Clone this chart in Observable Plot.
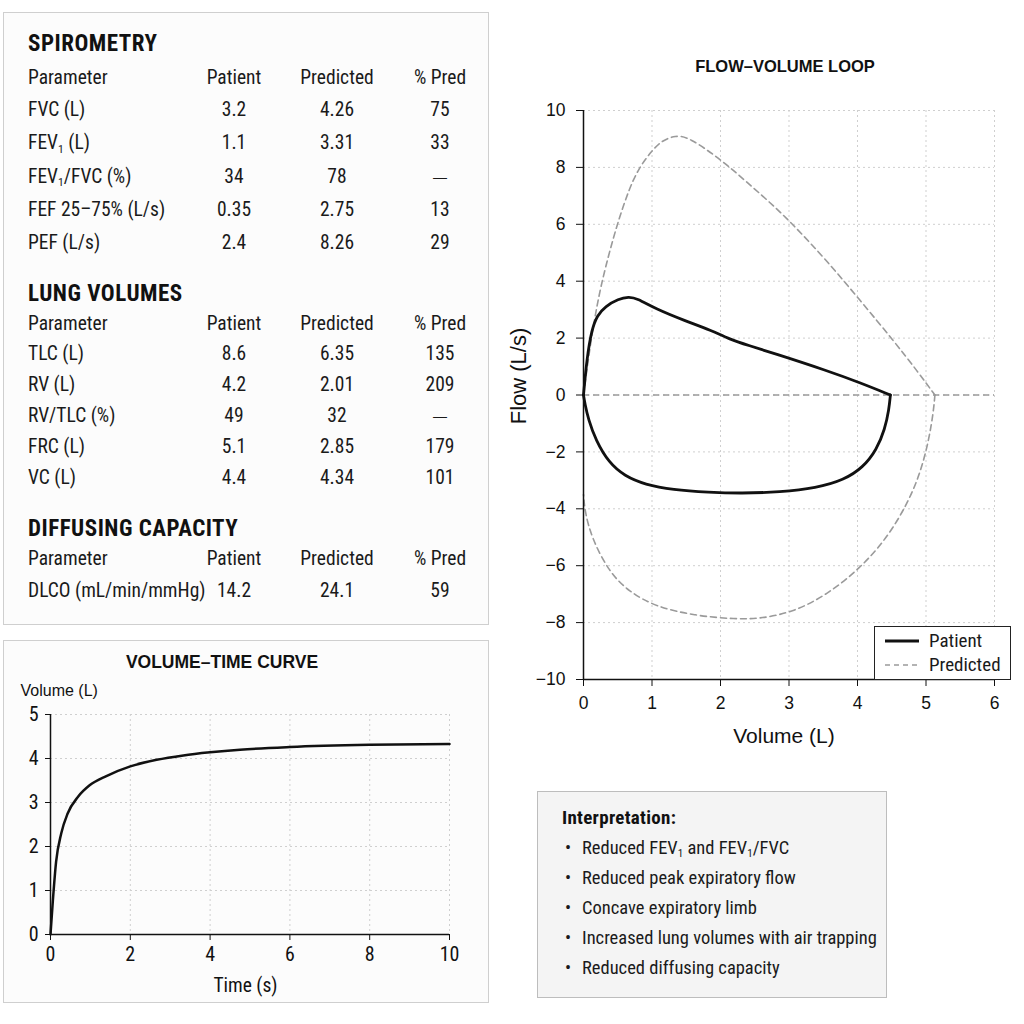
<!DOCTYPE html>
<html>
<head>
<meta charset="utf-8">
<script src="https://cdn.jsdelivr.net/npm/d3@7"></script>
<script src="https://cdn.jsdelivr.net/npm/@observablehq/plot@0.6"></script>
<style>
  html, body { margin: 0; padding: 0; background: #fff; }
  body { width: 1024px; height: 1024px; position: relative; overflow: hidden; color: #1a1a1a; }
  .abs { position: absolute; white-space: nowrap; }
  .panel { position: absolute; box-sizing: border-box; }
  sub { font-size: 0.6em; vertical-align: baseline; position: relative; top: 0.3em; line-height: 0; }
</style>
</head>
<body>
<div class="panel" style="left:3px;top:12px;width:486px;height:613px;border:1.5px solid #cfcfcf;background:#fcfcfc;"></div>
<div class="panel" style="left:3px;top:640px;width:486px;height:363px;border:1.5px solid #cfcfcf;background:#fcfcfc;"></div>
<div class="panel" style="left:537px;top:791px;width:350px;height:207px;border:1.5px solid #bdbdbd;background:#f4f4f4;"></div>
<div id="fv" class="abs" style="left:500px;top:90px;"></div>
<div id="vt" class="abs" style="left:3px;top:670px;"></div>
<script>
// ---------------- data ----------------
const tableHeader = ["Parameter", "Patient", "Predicted", "% Pred"];

const spiroTitle = "SPIROMETRY";
const spiroParams = ["FVC (L)", "FEV1 (L)", "FEV1/FVC (%)", "FEF 25–75% (L/s)", "PEF (L/s)"];
const spiroPatient = ["3.2", "1.1", "34", "0.35", "2.4"];
const spiroPredicted = ["4.26", "3.31", "78", "2.75", "8.26"];
const spiroPctPred = ["75", "33", "—", "13", "29"];

const lungTitle = "LUNG VOLUMES";
const lungParams = ["TLC (L)", "RV (L)", "RV/TLC (%)", "FRC (L)", "VC (L)"];
const lungPatient = ["8.6", "4.2", "49", "5.1", "4.4"];
const lungPredicted = ["6.35", "2.01", "32", "2.85", "4.34"];
const lungPctPred = ["135", "209", "—", "179", "101"];

const diffTitle = "DIFFUSING CAPACITY";
const diffParams = ["DLCO (mL/min/mmHg)"];
const diffPatient = ["14.2"];
const diffPredicted = ["24.1"];
const diffPctPred = ["59"];

// Flow-volume loop (volume L, flow L/s)
const patientExpV = [0, 0.05, 0.12, 0.2, 0.32, 0.51, 0.66, 0.78, 1.05, 1.48, 1.87, 2.12, 2.41, 2.8, 3.55, 4.04, 4.48];
const patientExpF = [0, 1.3, 2.3, 2.8, 3.12, 3.38, 3.45, 3.4, 3.03, 2.61, 2.27, 1.97, 1.74, 1.45, 0.86, 0.43, 0];
const patientInsV = [4.48, 4.46, 4.4, 4.28, 4.08, 3.8, 3.4, 2.87, 2.3, 1.83, 1.3, 0.9, 0.6, 0.37, 0.18, 0.07, 0.02, 0];
const patientInsF = [0, -0.5, -1.2, -1.92, -2.55, -2.99, -3.27, -3.41, -3.46, -3.42, -3.33, -3.15, -2.85, -2.38, -1.6, -0.85, -0.3, 0];

const predExpV = [0, 0.1, 0.22, 0.37, 0.51, 0.66, 0.8, 1.0, 1.15, 1.34, 1.53, 2.02, 2.41, 2.8, 3.07, 3.55, 4.04, 4.53, 4.87, 5.13];
const predExpF = [0, 1.8, 3.5, 4.96, 6.14, 7.2, 7.95, 8.6, 8.95, 9.12, 9.08, 8.25, 7.43, 6.6, 5.96, 4.73, 3.32, 1.9, 0.85, 0];
const predInsV = [5.13, 5.11, 5.04, 4.91, 4.72, 4.43, 4.04, 3.55, 3.07, 2.6, 2.22, 1.63, 1.05, 0.66, 0.37, 0.12, 0.02, 0];
const predInsF = [0, -0.56, -1.62, -2.8, -3.86, -5.03, -6.09, -7.03, -7.62, -7.86, -7.88, -7.76, -7.44, -6.91, -6.21, -5.03, -4.1, -3.5];

const fvXTicks = [0, 1, 2, 3, 4, 5, 6];
const fvYTicks = [-10, -8, -6, -4, -2, 0, 2, 4, 6, 8, 10];

// Volume-time curve
const vtTime = [0, 0.06, 0.14, 0.27, 0.43, 0.69, 0.98, 1.4, 2.0, 2.66, 3.33, 4.0, 4.75, 6.0, 8.0, 10];
const vtVolume = [0, 0.78, 1.65, 2.3, 2.75, 3.13, 3.39, 3.6, 3.82, 3.97, 4.07, 4.14, 4.2, 4.26, 4.31, 4.33];
const vtXTicks = [0, 2, 4, 6, 8, 10];
const vtYTicks = [0, 1, 2, 3, 4, 5];

const legendLabels = ["Patient", "Predicted"];
const interpTitle = "Interpretation:";
const interpItems = [
  "Reduced FEV1 and FEV1/FVC",
  "Reduced peak expiratory flow",
  "Concave expiratory limb",
  "Increased lung volumes with air trapping",
  "Reduced diffusing capacity"
];

// ---------------- helpers ----------------
const FN = '"Liberation Sans Narrow","Arial Narrow","Roboto Condensed","DejaVu Sans Condensed",sans-serif';
const FR = '"Liberation Sans",Arial,sans-serif';
const fmt = s => s.replace(/FEV1/g, "FEV<sub>1</sub>");
const tickFmt = d => (d < 0 ? "\u2212" + Math.abs(d) : String(d));

function addText(html, x, y, o = {}) {
  const d = document.createElement("div");
  d.className = "abs";
  d.style.top = (y - 15) + "px";
  d.style.height = "30px";
  d.style.lineHeight = "30px";
  d.style.fontFamily = o.font || FN;
  d.style.fontSize = (o.size || 19.5) + "px";
  d.style.fontWeight = o.weight || "normal";
  d.style.color = o.color || "#1a1a1a";
  if (o.ls) d.style.letterSpacing = o.ls + "px";
  if (o.anchor === "middle") {
    d.style.left = (x - 150) + "px";
    d.style.width = "300px";
    d.style.textAlign = "center";
  } else {
    d.style.left = x + "px";
  }
  d.innerHTML = html;
  document.body.appendChild(d);
  return d;
}

// ---------------- tables ----------------
const colX = [28, 234, 337, 440];
const sections = [
  {title: spiroTitle, ty: 44, hy: 78, ry: 110, step: 33.25, p: spiroParams, a: spiroPatient, b: spiroPredicted, c: spiroPctPred},
  {title: lungTitle, ty: 294, hy: 324, ry: 354, step: 31, p: lungParams, a: lungPatient, b: lungPredicted, c: lungPctPred},
  {title: diffTitle, ty: 529, hy: 559, ry: 591, step: 31, p: diffParams, a: diffPatient, b: diffPredicted, c: diffPctPred}
];
for (const s of sections) {
  addText(s.title, 28, s.ty, {size: 23, weight: "bold", ls: 0.5, color: "#111"});
  tableHeader.forEach((h, i) => addText(h, colX[i], s.hy, {anchor: i ? "middle" : "start"}));
  s.p.forEach((p, r) => {
    const y = s.ry + r * s.step;
    addText(fmt(p), colX[0], y);
    addText(s.a[r], colX[1], y, {anchor: "middle"});
    addText(s.b[r], colX[2], y, {anchor: "middle"});
    const dash = s.c[r] === "—";
    addText(s.c[r], colX[3], y, {anchor: "middle", size: dash ? 14 : 19.5, font: dash ? FR : FN});
  });
}

// ---------------- titles ----------------
addText("FLOW–VOLUME LOOP", 785, 66, {font: FR, size: 16.5, weight: "bold", anchor: "middle", color: "#111"});
addText("VOLUME–TIME CURVE", 222, 662, {font: FR, size: 17.5, weight: "bold", anchor: "middle", color: "#111"});

// ---------------- flow-volume loop ----------------
const patRows = [
  ...patientExpV.map((v, i) => ({v, f: patientExpF[i], limb: "exp"})),
  ...patientInsV.map((v, i) => ({v, f: patientInsF[i], limb: "ins"}))
];
const predRows = [
  ...predExpV.map((v, i) => ({v, f: predExpF[i], limb: "exp"})),
  ...predInsV.map((v, i) => ({v, f: predInsF[i], limb: "ins"}))
];
const gridStyle = {stroke: "#cfcfcf", strokeOpacity: 1, strokeDasharray: "2,3", strokeWidth: 1};

const fv = Plot.plot({
  width: 524, height: 670,
  marginLeft: 83, marginRight: 30, marginTop: 20, marginBottom: 81,
  style: {background: "transparent", fontFamily: FR, color: "#111", overflow: "visible"},
  x: {domain: [0, 6]},
  y: {domain: [-10, 10]},
  marks: [
    Plot.gridX(fvXTicks, gridStyle),
    Plot.gridY(fvYTicks, gridStyle),
    Plot.ruleY([0], {stroke: "#9a9a9a", strokeWidth: 1.5, strokeDasharray: "6,4"}),
    Plot.line(predRows, {x: "v", y: "f", z: "limb", stroke: "#9a9a9a", strokeWidth: 1.6, strokeDasharray: "6,4", curve: "basis"}),
    Plot.line(patRows, {x: "v", y: "f", z: "limb", stroke: "#111", strokeWidth: 2.8, curve: "basis"}),
    Plot.ruleX([0], {stroke: "#111", strokeWidth: 1.5}),
    Plot.ruleY([-10], {stroke: "#111", strokeWidth: 1.5}),
    Plot.axisX({ticks: fvXTicks, tickFormat: tickFmt, tickSize: 7, tickPadding: 10, fontSize: 17.5, label: null}),
    Plot.axisY({ticks: fvYTicks, tickFormat: tickFmt, tickSize: 7, tickPadding: 11, fontSize: 17.5, label: null}),
    Plot.text(["Volume (L)"], {frameAnchor: "bottom", textAnchor: "middle", lineAnchor: "middle", dx: -5, dy: 57, fontSize: 21}),
    Plot.text(["Flow (L/s)"], {frameAnchor: "left", textAnchor: "middle", lineAnchor: "middle", rotate: -90, dx: -65, dy: -19, fontSize: 22})
  ]
});
document.getElementById("fv").appendChild(fv);

// legend (HTML, over the chart)
const leg = document.createElement("div");
leg.className = "abs";
Object.assign(leg.style, {left: "874px", top: "626px", width: "137px", height: "54px", boxSizing: "border-box",
  border: "1.5px solid #222", background: "#fff"});
document.body.appendChild(leg);
const legSw = [
  '<svg width="34" height="6" style="position:absolute;left:10px;top:-3px"><line x1="0" y1="3" x2="34" y2="3" stroke="#111" stroke-width="3"/></svg>',
  '<svg width="34" height="6" style="position:absolute;left:10px;top:-3px"><line x1="0" y1="3" x2="34" y2="3" stroke="#9a9a9a" stroke-width="1.6" stroke-dasharray="5,4"/></svg>'
];
legendLabels.forEach((lab, i) => {
  const y = 641 + i * 23.5;
  const sw = document.createElement("div");
  sw.className = "abs";
  Object.assign(sw.style, {left: "875px", top: y + "px"});
  sw.innerHTML = legSw[i];
  document.body.appendChild(sw);
  addText(lab, 929, y, {size: 19});
});

// ---------------- volume-time curve ----------------
const vtRows = vtTime.map((t, i) => ({t, v: vtVolume[i]}));
const vt = Plot.plot({
  width: 480, height: 330,
  marginLeft: 47, marginRight: 34, marginTop: 44, marginBottom: 66,
  style: {background: "transparent", fontFamily: FN, color: "#111", overflow: "visible"},
  x: {domain: [0, 10]},
  y: {domain: [0, 5]},
  marks: [
    Plot.gridX(vtXTicks, gridStyle),
    Plot.gridY(vtYTicks, gridStyle),
    Plot.line(vtRows, {x: "t", y: "v", stroke: "#111", strokeWidth: 2.5, curve: "monotone-x"}),
    Plot.ruleX([0], {stroke: "#111", strokeWidth: 1.5}),
    Plot.ruleY([0], {stroke: "#111", strokeWidth: 1.5}),
    Plot.axisX({ticks: vtXTicks, tickFormat: tickFmt, tickSize: 6, tickPadding: 6, fontSize: 20, label: null}),
    Plot.axisY({ticks: vtYTicks, tickFormat: tickFmt, tickSize: 5, tickPadding: 7, fontSize: 20, label: null}),
    Plot.text(["Time (s)"], {frameAnchor: "bottom", textAnchor: "middle", lineAnchor: "middle", dx: -4.5, dy: 51, fontSize: 19.5}),
    Plot.text(["Volume (L)"], {frameAnchor: "top-left", textAnchor: "start", lineAnchor: "middle", dx: -30, dy: -24, fontSize: 16, fontFamily: FR})
  ]
});
document.getElementById("vt").appendChild(vt);

// ---------------- interpretation ----------------
addText(interpTitle, 562, 818, {size: 19, weight: "bold", ls: 0.3, color: "#111"});
interpItems.forEach((t, i) => {
  const y = 848 + i * 30;
  addText("•", 565, y, {size: 18});
  addText(fmt(t), 582, y, {size: 18.5});
});
</script>
</body>
</html>
